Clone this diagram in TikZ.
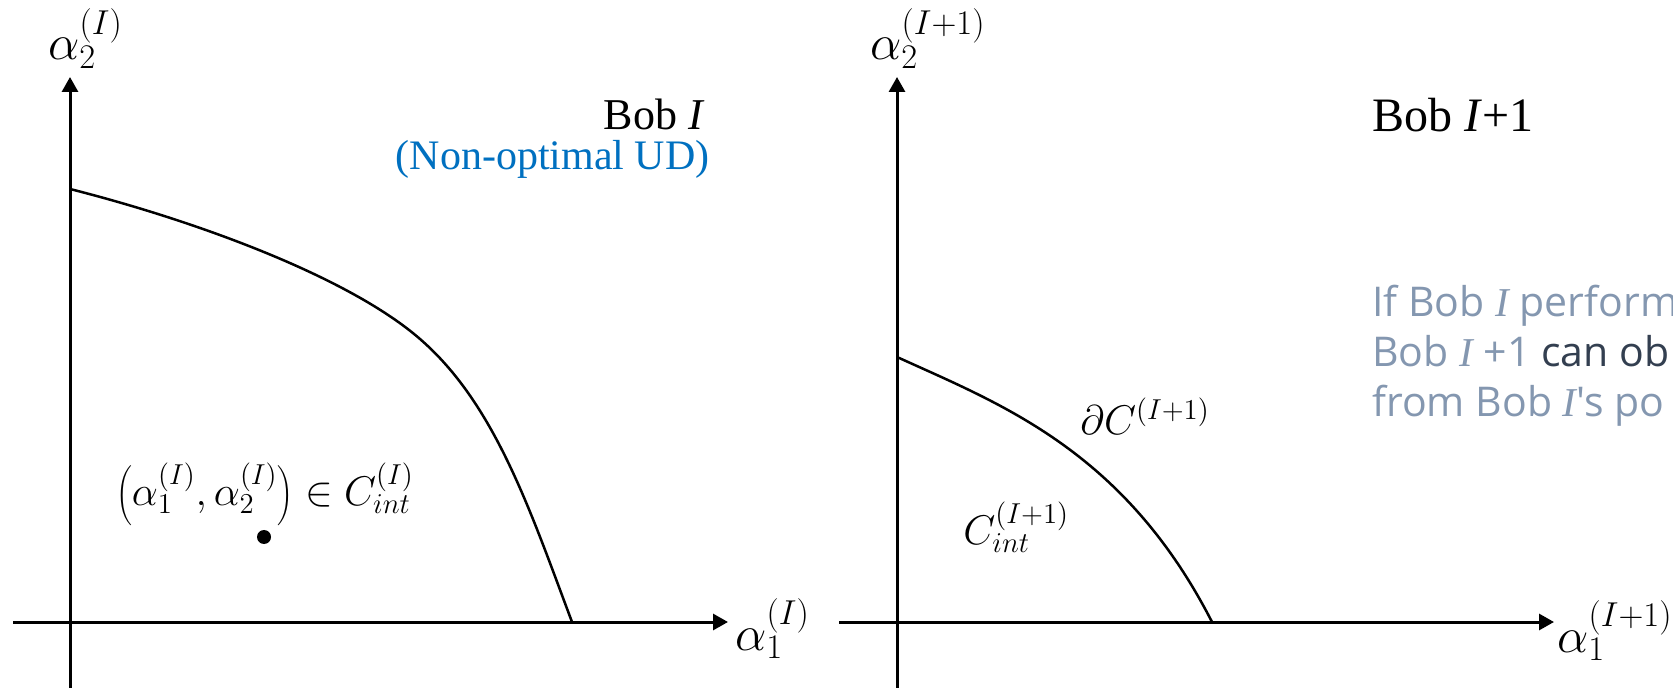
\documentclass[tikz,border=0pt]{standalone}
\usepackage{fontspec}
\newfontfamily\timesf{Liberation Serif}
\newfontfamily\segoef{Open Sans}
\usetikzlibrary{arrows.meta}
\definecolor{udblue}{HTML}{0070C0}
\definecolor{greyblue}{HTML}{8497B0}
\definecolor{darkslate}{HTML}{333F50}
\begin{document}
\begin{tikzpicture}[x=0.5pt,y=-0.5pt,
  axis/.style={line width=1.5pt,-{Triangle[length=7.5pt,width=8pt]}},
  bound/.style={line width=1.25pt},
  mathlbl/.style={inner sep=0pt,font=\fontsize{23}{28}\selectfont},
  boblbl/.style={inner sep=0pt,font=\timesf\fontsize{22}{26}\selectfont},
  notelbl/.style={inner sep=0pt,text=greyblue,font=\segoef\fontsize{20.5}{24}\selectfont}]
\useasboundingbox (0,0) rectangle (1673,688);
\clip (0,0) rectangle (1673,688);
% ---------- left panel ----------
\coordinate (LyS) at (70,688);
\coordinate (LyE) at (70,77);
\coordinate (LxS) at (13,622);
\coordinate (LxE) at (728,622);
\coordinate (Lc0) at (70,189);
\coordinate (Lc1) at (420,339);
\coordinate (Lc2) at (572,622);
\draw[axis] (LyS) -- (LyE);
\draw[axis] (LxS) -- (LxE);
\draw[bound] (Lc0) .. controls (200,222) and (350,278) .. (Lc1)
                   .. controls (495,404) and (530,510) .. (Lc2);
\node[mathlbl,anchor=base west] (ly) at (48,60) {$\alpha_2^{(I)}$};
\node[mathlbl,anchor=base west] (lx) at (735,650) {$\alpha_1^{(I)}$};
\node[boblbl,anchor=base east] (bobI) at (705,130) {Bob \textit{I}};
\node[boblbl,anchor=base east,text=udblue,font=\timesf\fontsize{21}{25}\selectfont] (nonopt) at (710,170) {(Non-optimal UD)};
\node[mathlbl,anchor=base,font=\fontsize{21}{25}\selectfont] (pt) at (265,506) {$\left(\alpha_1^{(I)},\alpha_2^{(I)}\right)\in C_{int}^{(I)}$};
\fill (264,537) circle (7);
% ---------- right panel ----------
\coordinate (RyS) at (897,688);
\coordinate (RyE) at (897,77);
\coordinate (RxS) at (839,622);
\coordinate (RxE) at (1554,622);
\coordinate (Rc0) at (897,357);
\coordinate (Rc1) at (1212,622);
\draw[axis] (RyS) -- (RyE);
\draw[axis] (RxS) -- (RxE);
\draw[bound] (Rc0) .. controls (1000,404) and (1124,450) .. (Rc1);
\node[mathlbl,anchor=base west] (ry) at (870,60) {$\alpha_2^{(I+1)}$};
\node[mathlbl,anchor=base west] (rx) at (1557,652) {$\alpha_1^{(I+1)}$};
\node[mathlbl,anchor=base west,font=\fontsize{21.5}{26}\selectfont] (dC) at (1080,435) {$\partial C^{(I+1)}$};
\node[mathlbl,anchor=base west,font=\fontsize{22}{26}\selectfont] (Cint) at (963,545) {$C_{int}^{(I+1)}$};
\node[boblbl,anchor=base west,font=\timesf\fontsize{24}{28}\selectfont] (bobI1) at (1372,132) {Bob \textit{I}+1};
\node[notelbl,anchor=base west] (n1) at (1372,317) {If Bob {\timesf\itshape I} perform};
\node[notelbl,anchor=base west] (n2) at (1372,367) {Bob {\timesf\itshape I} +1 \textcolor{darkslate}{can ob}};
\node[notelbl,anchor=base west] (n3) at (1372,417) {from Bob {\timesf\itshape I}'s po};
\end{tikzpicture}
\end{document}
